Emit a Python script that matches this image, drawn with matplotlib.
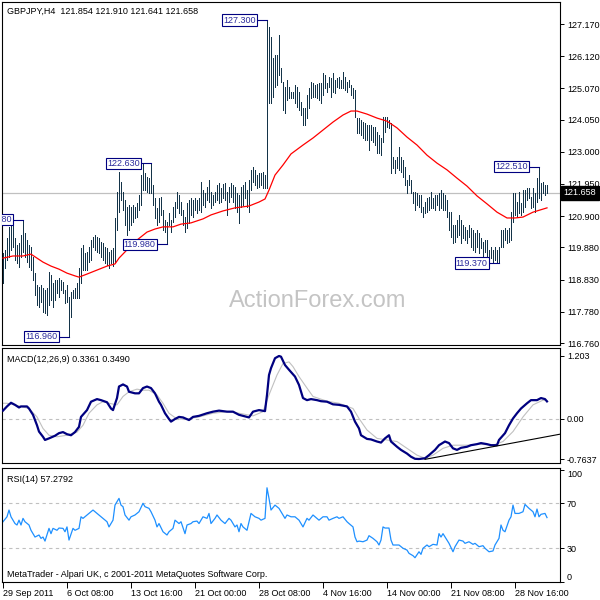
import numpy as np
import matplotlib
matplotlib.use('Agg')
import matplotlib.pyplot as plt
import matplotlib.transforms as mtransforms

plt.rcParams['font.family'] = ['Liberation Sans', 'DejaVu Sans']
plt.rcParams['font.size'] = 6.5

# Données : barres H4 GBPJPY (plus haut / plus bas)
highs = [
    119.70, 119.80, 120.19, 120.55, 120.77, 120.71, 120.19, 119.96, 120.02, 120.28,
    120.78, 120.35, 120.12, 119.96, 119.89, 119.57, 119.04, 118.65, 118.59, 118.65,
    118.55, 118.49, 118.55, 119.08, 118.98, 118.72, 118.82, 118.82, 118.88, 118.82,
    118.75, 118.49, 118.65, 118.26, 118.42, 118.49, 118.55, 118.72, 119.21, 119.86,
    119.96, 119.70, 119.73, 119.89, 120.12, 120.22, 120.28, 120.22, 120.19, 120.06,
    120.02, 119.89, 119.86, 119.73, 119.80, 119.86, 120.84, 121.69, 122.34, 122.01,
    121.69, 121.43, 121.20, 121.26, 121.20, 121.26, 121.20, 121.33, 121.59, 122.24,
    122.60, 122.31, 122.18, 122.14, 122.63, 121.92, 121.49, 121.17, 121.49, 121.52,
    121.10, 120.77, 120.71, 121.00, 120.77, 121.20, 121.36, 121.69, 121.59, 121.36,
    121.10, 120.87, 121.33, 121.43, 121.49, 121.43, 121.49, 121.43, 121.49, 122.01,
    121.75, 121.65, 121.85, 122.08, 121.69, 121.59, 121.69, 121.92, 121.98, 121.82,
    121.95, 121.98, 121.69, 121.85, 121.98, 121.92, 121.85, 121.65, 121.59, 121.85,
    121.92, 122.01, 121.75, 122.08, 122.41, 122.50, 122.41, 122.24, 122.31, 122.31,
    122.34, 122.24, 127.30, 127.07, 126.75, 126.06, 126.16, 126.16, 126.81, 125.73,
    125.28, 125.11, 125.34, 125.11, 124.95, 124.95, 125.18, 125.11, 124.95, 124.62,
    124.43, 124.43, 124.85, 125.08, 125.28, 125.24, 125.18, 125.21, 125.24, 125.24,
    125.57, 125.51, 125.24, 125.44, 125.41, 125.57, 125.34, 125.41, 125.44, 125.34,
    125.60, 125.44, 125.28, 125.34, 125.18, 125.08, 125.02, 124.10, 124.10, 124.04,
    123.97, 123.94, 123.87, 123.87, 123.87, 123.81, 123.81, 123.65, 123.55, 123.45,
    124.13, 124.13, 124.13, 124.04, 123.94, 122.83, 122.73, 122.83, 123.16, 122.83,
    122.73, 122.50, 122.08, 122.24, 122.08, 121.69, 121.69, 121.65, 121.59, 121.59,
    121.20, 121.36, 121.49, 121.52, 121.69, 121.49, 121.59, 121.59, 121.65, 121.75,
    121.65, 121.59, 121.43, 121.03, 121.03, 120.61, 120.61, 120.77, 120.94, 120.77,
    120.61, 120.55, 120.45, 120.61, 120.51, 120.45, 120.35, 120.45, 120.35, 120.19,
    120.06, 120.12, 120.12, 119.80, 119.89, 119.80, 119.89, 119.80, 119.89, 120.45,
    120.45, 120.51, 120.45, 120.51, 121.03, 121.65, 121.65, 121.36, 121.69, 121.33,
    121.75, 121.75, 121.82, 121.82, 121.52, 121.82, 121.65, 122.14, 122.51, 121.98,
    122.01, 121.92, 121.91]

lows = [
    118.72, 119.21, 119.47, 119.57, 119.80, 119.89, 119.47, 119.37, 119.24, 119.57,
    119.73, 119.57, 119.40, 119.24, 119.14, 118.82, 118.33, 118.00, 117.93, 118.10,
    117.77, 117.74, 117.67, 118.00, 118.16, 117.93, 118.16, 118.39, 118.26, 118.49,
    118.39, 118.07, 118.10, 116.96, 117.61, 118.23, 118.23, 118.23, 118.23, 118.72,
    119.14, 119.14, 119.14, 119.40, 119.47, 119.89, 119.80, 119.73, 119.70, 119.57,
    119.47, 119.37, 119.31, 119.21, 119.37, 119.27, 119.40, 120.45, 121.03, 121.43,
    121.10, 120.61, 120.28, 120.45, 120.61, 120.71, 120.84, 120.87, 121.10, 121.26,
    121.75, 121.75, 121.69, 121.65, 121.65, 121.26, 120.84, 120.61, 120.71, 120.94,
    120.45, 120.38, 119.98, 120.61, 120.38, 120.71, 120.87, 121.17, 121.00, 120.94,
    120.61, 120.38, 120.51, 120.68, 120.94, 120.87, 121.10, 121.00, 121.10, 121.03,
    121.26, 121.20, 121.43, 121.36, 121.17, 121.26, 121.36, 121.43, 121.33, 121.36,
    121.49, 121.43, 120.94, 121.36, 121.52, 121.36, 121.17, 121.03, 120.68, 121.20,
    121.26, 121.49, 121.20, 121.03, 121.75, 122.01, 121.92, 121.82, 121.85, 121.92,
    121.82, 121.82, 121.82, 124.59, 124.59, 124.79, 125.11, 125.18, 125.51, 125.28,
    124.36, 124.27, 124.69, 124.76, 124.76, 124.76, 124.59, 124.46, 124.36, 124.20,
    123.87, 123.87, 124.10, 124.43, 124.76, 124.79, 124.79, 124.76, 124.69, 124.59,
    124.85, 125.08, 124.95, 125.11, 124.79, 124.95, 124.92, 125.11, 125.08, 125.08,
    125.08, 125.02, 124.95, 125.11, 124.85, 124.76, 124.13, 123.61, 123.61, 123.55,
    123.45, 123.38, 123.38, 123.06, 123.38, 123.32, 123.22, 122.96, 122.96, 122.90,
    123.32, 123.65, 123.81, 123.78, 122.31, 122.47, 122.31, 122.47, 122.41, 122.34,
    122.18, 121.92, 121.65, 121.92, 121.65, 121.33, 121.10, 121.26, 121.20, 121.03,
    120.87, 121.00, 121.03, 121.10, 121.17, 121.17, 121.10, 121.26, 121.10, 121.17,
    121.10, 121.10, 120.87, 120.45, 120.22, 120.02, 120.06, 120.22, 120.28, 120.02,
    120.19, 120.12, 120.02, 120.22, 119.89, 119.80, 119.73, 119.89, 119.70, 119.86,
    119.57, 119.73, 119.47, 119.40, 119.53, 119.40, 119.47, 119.39, 119.37, 119.89,
    119.89, 120.12, 120.02, 120.06, 120.12, 120.71, 120.94, 120.87, 121.00, 120.94,
    121.03, 121.20, 121.43, 121.49, 121.17, 121.20, 121.03, 121.36, 121.49, 121.43,
    121.65, 121.59, 121.64]

# moyenne mobile (rouge), relevée à quelques barres
ma_idx = [0, 5, 10, 14, 17, 20, 24, 28, 32, 36, 38, 42, 47, 52, 56, 58, 62, 67, 72, 76,
          80, 85, 89, 94, 100, 104, 110, 116, 123, 128, 131, 133, 136, 140, 144, 150, 155, 160, 165, 170,
          174, 177, 182, 187, 192, 197, 202, 207, 212, 217, 222, 227, 232, 237, 242, 247, 252, 256, 260, 265,
          272]
ma_val = [119.53, 119.60, 119.60, 119.66, 119.53, 119.40, 119.27, 119.17, 119.04, 118.95,
          118.91, 119.01, 119.14, 119.27, 119.34, 119.53, 119.80, 120.12, 120.38, 120.48,
          120.55, 120.55, 120.64, 120.68, 120.81, 120.94, 121.07, 121.17, 121.23, 121.36,
          121.46, 121.75, 122.24, 122.57, 122.93, 123.22, 123.45, 123.71, 123.97, 124.20,
          124.33, 124.33, 124.23, 124.10, 124.00, 123.78, 123.48, 123.22, 122.89, 122.63,
          122.41, 122.14, 121.88, 121.56, 121.30, 121.03, 120.84, 120.84, 120.87, 121.03,
          121.17]

price_ticks = [127.17, 126.12, 125.07, 124.05, 123.00, 121.95, 120.90, 119.88, 118.83, 117.78, 116.76]
last_price = 121.658

# étiquettes des extrêmes : (barre, prix, texte)
mark_bar = [132, 74, 268, 10, 82, 248, 33]
mark_price = [127.30, 122.63, 122.51, 120.78, 119.98, 119.37, 116.96]
mark_text = ['127.300', '122.630', '122.510', '120.780', '119.980', '119.370', '116.960']

# MACD(12,26,9)
macd_idx = [0, 2, 4, 6, 8, 9, 12, 13, 15, 17,
            18, 20, 21, 23, 26, 28, 30, 32, 34, 36,
            38, 39, 42, 44, 47, 49, 52, 54, 55, 57,
            58, 60, 62, 63, 66, 68, 70, 72, 74, 76,
            78, 79, 81, 83, 84, 86, 88, 90, 93, 95,
            98, 102, 105, 108, 112, 115, 118, 122, 123, 125,
            128, 131, 132, 133, 134, 136, 138, 139, 141, 143,
            146, 148, 150, 152, 154, 157, 159, 162, 165, 168,
            172, 174, 176, 178, 179, 182, 184, 187, 189, 191,
            193, 194, 197, 199, 202, 204, 206, 208, 211, 213,
            216, 218, 221, 223, 225, 227, 229, 232, 234, 237,
            239, 242, 244, 247, 248, 251, 253, 255, 257, 259,
            262, 264, 267, 269, 271, 272]
macd_val = [0.16, 0.24, 0.31, 0.27, 0.22, 0.24, 0.24, 0.20, 0.08, -0.12,
            -0.24, -0.34, -0.40, -0.37, -0.32, -0.27, -0.25, -0.29, -0.31, -0.25,
            -0.15, 0.04, 0.17, 0.33, 0.38, 0.36, 0.32, 0.20, 0.17, 0.40,
            0.62, 0.66, 0.62, 0.52, 0.49, 0.49, 0.59, 0.62, 0.59, 0.49,
            0.33, 0.27, 0.11, 0.00, -0.05, 0.00, 0.04, 0.03, -0.02, 0.04,
            0.06, 0.11, 0.14, 0.16, 0.14, 0.14, 0.08, 0.04, 0.03, 0.14,
            0.17, 0.15, 0.46, 0.84, 0.97, 1.16, 1.203, 1.19, 1.03, 0.94,
            0.81, 0.65, 0.40, 0.36, 0.38, 0.36, 0.34, 0.33, 0.28, 0.27,
            0.24, 0.14, -0.05, -0.18, -0.31, -0.38, -0.39, -0.43, -0.45, -0.37,
            -0.31, -0.43, -0.53, -0.59, -0.66, -0.72, -0.76, -0.7637, -0.75, -0.69,
            -0.59, -0.50, -0.43, -0.46, -0.56, -0.59, -0.55, -0.53, -0.50, -0.48,
            -0.46, -0.48, -0.50, -0.50, -0.40, -0.27, -0.12, 0.01, 0.11, 0.20,
            0.30, 0.36, 0.36, 0.40, 0.38, 0.3361]
sig_idx = [0, 2, 8, 13, 17, 20, 23, 27, 32, 37,
           40, 43, 47, 50, 53, 57, 60, 63, 67, 70,
           73, 77, 80, 83, 87, 92, 98, 105, 112, 118,
           125, 130, 133, 137, 140, 143, 145, 148, 152, 155,
           162, 168, 175, 178, 182, 187, 192, 197, 202, 207,
           211, 215, 220, 225, 232, 238, 245, 250, 255, 260,
           265, 270, 272]
sig_val = [0.30, 0.30, 0.25, 0.20, 0.04, -0.18, -0.31, -0.34, -0.31, -0.25,
           -0.12, 0.11, 0.27, 0.33, 0.30, 0.27, 0.43, 0.52, 0.57, 0.55,
           0.55, 0.46, 0.30, 0.11, 0.00, 0.00, 0.04, 0.11, 0.14, 0.11,
           0.06, 0.14, 0.46, 0.84, 1.06, 1.09, 1.00, 0.81, 0.59, 0.43,
           0.34, 0.30, 0.20, 0.01, -0.21, -0.37, -0.40, -0.43, -0.56, -0.69,
           -0.75, -0.69, -0.56, -0.50, -0.50, -0.48, -0.50, -0.43, -0.24, 0.04,
           0.27, 0.36, 0.349]
trend_idx = [211, 278.5]
trend_val = [-0.77, -0.29]
macd_ticks = [1.203, 0.0, -0.7637]
macd_labels = ['1.203', '0.00', '-0.7637']

# RSI(14)
rsi_idx = [0, 2, 3, 4, 5, 6, 7, 8, 9, 10,
           11, 13, 14, 16, 18, 19, 20, 21, 23, 24,
           25, 27, 28, 30, 31, 32, 33, 35, 36, 38,
           39, 40, 42, 43, 45, 47, 48, 50, 52, 53,
           55, 56, 58, 59, 60, 61, 63, 64, 66, 68,
           70, 71, 73, 74, 76, 77, 78, 80, 82, 83,
           85, 86, 88, 89, 91, 92, 94, 95, 97, 98,
           100, 102, 103, 104, 106, 107, 109, 111, 113, 114,
           116, 117, 118, 119, 120, 122, 123, 124, 126, 128,
           129, 131, 132, 133, 134, 136, 138, 139, 141, 142,
           144, 146, 148, 150, 152, 153, 155, 157, 158, 160,
           162, 163, 165, 167, 168, 170, 172, 173, 175, 176,
           177, 178, 180, 182, 183, 185, 187, 188, 189, 190,
           191, 193, 194, 195, 197, 198, 200, 202, 203, 205,
           206, 208, 209, 210, 212, 213, 215, 217, 218, 219,
           220, 222, 223, 225, 226, 228, 230, 231, 233, 235,
           236, 238, 240, 241, 243, 245, 246, 248, 249, 250,
           251, 253, 254, 255, 256, 258, 260, 261, 263, 265,
           266, 267, 268, 269, 271, 272]
rsi_val = [53.6, 58, 64, 58, 55, 52, 50.7, 55, 50.7, 56.6,
           53.6, 50.7, 46, 40, 41.8, 38.8, 40, 36.4, 47.7, 43,
           47.7, 46, 48, 47.7, 44.7, 49, 37.3, 47.7, 46, 47.7,
           58, 56.6, 59.6, 61, 64, 61, 59.6, 56.6, 53.6, 49,
           55, 68.4, 74.4, 68.4, 67, 59.6, 55, 58, 59.6, 62.5,
           70, 67, 65.5, 62.5, 55, 49, 52, 44.7, 41.8, 44.7,
           47.7, 55, 52, 53.6, 43, 50.7, 52, 53.6, 54.2, 52,
           58, 56.6, 61, 52, 56.6, 59.6, 55, 52, 56.6, 55,
           49, 50.7, 44.7, 52, 49, 46, 53.6, 61, 58, 56.6,
           55, 56.6, 83.8, 74.4, 64, 68.4, 65.5, 62.5, 56.6, 59.6,
           58, 58, 55, 49, 56.6, 55, 59.6, 56.6, 55, 58,
           58, 55, 56.6, 58, 56.6, 58, 53.6, 52, 49, 40,
           35.8, 36.4, 35.8, 37.3, 41.2, 38.8, 35.8, 32.9, 37.3, 49,
           48, 48, 37.3, 32.9, 32.9, 32.9, 30, 28.4, 25.5, 23.4,
           21.6, 26.9, 24.6, 30, 32.9, 31.4, 33.5, 32.9, 43, 40,
           43, 37.3, 34.4, 26.9, 31.4, 37.3, 36.4, 34.4, 35.8, 33.5,
           34.4, 31.4, 32.3, 30, 26.9, 27.6, 32.9, 38.8, 50.7, 46,
           44.7, 55, 58, 68.4, 61, 61, 62.5, 69, 65.5, 62.5,
           58, 64.9, 58, 60.2, 61, 57.28]
rsi_ticks = [100, 70, 30, 0]

date_idx = [0, 32, 64, 96, 128, 160, 192, 224, 256]
date_labels = ['29 Sep 2011', '6 Oct 08:00', '13 Oct 16:00', '21 Oct 00:00', '28 Oct 08:00',
               '4 Nov 16:00', '14 Nov 00:00', '21 Nov 08:00', '28 Nov 16:00']


# Tracé

fig = plt.figure(figsize=(6, 6), dpi=100)


def panel(top, bottom):
    # position en pixels de l'image 600x600
    return fig.add_axes([2 / 600, 1 - bottom / 600, 558 / 600, (bottom - top) / 600])


ax1 = panel(2, 345)
ax2 = panel(347.5, 463)
ax3 = panel(468, 582)

for ax in (ax1, ax2, ax3):
    ax.set_xlim(-0.5, 278.5)
    for s in ax.spines.values():
        s.set_linewidth(0.8)
        s.set_color('black')
    ax.yaxis.tick_right()
    ax.tick_params(axis='y', direction='out', length=3, width=0.7, pad=2, labelsize=6.5)

# prix
x = np.arange(len(highs))
ax1.axhline(last_price, color='#c0c0c0', lw=0.9, zorder=0)
ax1.vlines(x, lows, highs, color='#143449', lw=0.72, zorder=2, antialiased=False)
ax1.plot(ma_idx, ma_val, color='red', lw=0.9, zorder=3)
ax1.set_ylim(116.695, 127.888)
ax1.set_yticks(price_ticks)
ax1.set_yticklabels(['%.3f' % p for p in price_ticks])
ax1.set_xticks([])

for b, p, t in zip(mark_bar, mark_price, mark_text):
    ax1.plot([b - 5.5, b], [p, p], color='#000080', lw=0.8, zorder=4)
    ax1.text(b - 5.7, p, t, ha='right', va='center', color='#2a2a9c', fontsize=6.5, zorder=5,
             clip_on=True,
             bbox=dict(boxstyle='square,pad=0.12', fc='white', ec='#000080', lw=0.8))

trans = mtransforms.blended_transform_factory(ax1.transAxes, ax1.transData)
ax1.text(1.006, last_price, '%.3f' % last_price, transform=trans, ha='left', va='center',
         color='white', fontsize=6.5, zorder=10, clip_on=False,
         bbox=dict(boxstyle='square,pad=0.3', fc='black', ec='black'))

ax1.text(0.566, 0.128, 'ActionForex.com', transform=ax1.transAxes, ha='center', va='center',
         fontsize=17, color='#c4c4c4', zorder=1)

# MACD
ax2.axhline(0, color='#c0c0c0', lw=0.8, ls=(0, (3, 3)), zorder=0)
ax2.plot(sig_idx, sig_val, color='#c0c0c0', lw=0.8, zorder=2)
ax2.plot(macd_idx, macd_val, color='#000080', lw=1.6, zorder=3)
ax2.plot(trend_idx, trend_val, color='black', lw=0.8, zorder=4)
ax2.set_ylim(-0.840, 1.365)
ax2.set_yticks(macd_ticks)
ax2.set_yticklabels(macd_labels)
ax2.set_xticks([])

# RSI
for lvl in (70, 30):
    ax3.axhline(lvl, color='#c0c0c0', lw=0.8, ls=(0, (3, 3)), zorder=0)
ax3.plot(rsi_idx, rsi_val, color='#1e90ff', lw=0.9, zorder=2)
ax3.set_ylim(0, 101.4)
ax3.set_yticks(rsi_ticks)
ax3.set_yticklabels([str(v) for v in rsi_ticks])
for lab in ax3.get_yticklabels():
    if lab.get_text() == '100':
        lab.set_va('top')
    elif lab.get_text() == '0':
        lab.set_va('bottom')
ax3.set_xticks(date_idx)
ax3.set_xticklabels(date_labels, ha='left')
ax3.tick_params(axis='x', direction='out', length=4, width=0.7, pad=1, labelsize=6.5)

# textes
fig.text(7 / 600, 1 - 11 / 600, 'GBPJPY,H4  121.854 121.910 121.641 121.658', va='center', fontsize=6.5)
fig.text(7 / 600, 1 - 359 / 600, 'MACD(12,26,9) 0.3361 0.3490', va='center', fontsize=6.5)
fig.text(7 / 600, 1 - 479 / 600, 'RSI(14) 57.2792', va='center', fontsize=6.5)
fig.text(7 / 600, 1 - 574.5 / 600, 'MetaTrader - Alpari UK, c 2001-2011 MetaQuotes Software Corp.',
         va='center', fontsize=6.5)

plt.savefig('out.png', dpi=100)
